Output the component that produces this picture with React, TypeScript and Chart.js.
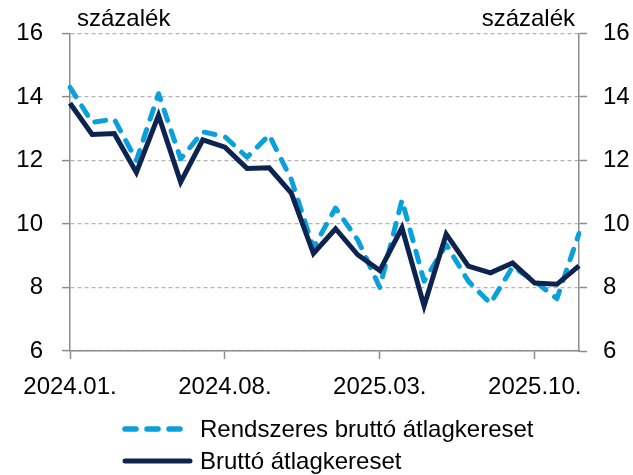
import React, { useEffect, useRef } from 'react';
import { Chart, registerables } from 'chart.js';

Chart.register(...registerables);

const months = [
  '2024.01.', '2024.02.', '2024.03.', '2024.04.', '2024.05.', '2024.06.',
  '2024.07.', '2024.08.', '2024.09.', '2024.10.', '2024.11.', '2024.12.',
  '2025.01.', '2025.02.', '2025.03.', '2025.04.', '2025.05.', '2025.06.',
  '2025.07.', '2025.08.', '2025.09.', '2025.10.', '2025.11.', '2025.12.',
];

const rendszeres = [
  14.3, 13.2, 13.3, 12.0, 14.1, 12.05, 12.9, 12.75, 12.1, 12.8, 11.4, 9.25,
  10.5, 9.5, 8.0, 10.75, 8.2, 9.35, 8.2, 7.5, 8.65, 8.2, 7.65, 9.7,
];

const brutto = [
  13.8, 12.82, 12.85, 11.62, 13.42, 11.32, 12.65, 12.42, 11.75, 11.77, 10.97, 9.07,
  9.85, 9.03, 8.53, 9.88, 7.42, 9.68, 8.67, 8.46, 8.77, 8.14, 8.1, 8.68,
];

const seriesNames = ['Rendszeres bruttó átlagkereset', 'Bruttó átlagkereset'];
const unitLabel = 'százalék';
const yMin = 6;
const yMax = 16;
const yStep = 2;
const labelEvery = 7;

const FONT = '"Liberation Sans", Arial, sans-serif';
const LIGHT_BLUE = '#0aa0dc';
const NAVY = '#0d2350';
const AXIS = '#8c8c8c';
const GRID = '#b4b4b4';

const overlayPlugin = {
  id: 'overlay',
  afterDraw(chart: any) {
    const ctx = chart.ctx as CanvasRenderingContext2D;
    const area = chart.chartArea;
    ctx.save();
    ctx.fillStyle = '#000';
    ctx.font = `24px ${FONT}`;
    ctx.textBaseline = 'alphabetic';
    ctx.textAlign = 'left';
    ctx.fillText(unitLabel, area.left + 7, 26);
    ctx.textAlign = 'right';
    ctx.fillText(unitLabel, area.right - 4, 26);

    // legend
    const rows = [
      { y: 429, color: LIGHT_BLUE, dash: [11, 11], width: 5.5, text: seriesNames[0] },
      { y: 461, color: NAVY, dash: [], width: 5, text: seriesNames[1] },
    ];
    ctx.font = `24px ${FONT}`;
    ctx.textAlign = 'left';
    rows.forEach((r) => {
      ctx.save();
      ctx.strokeStyle = r.color;
      ctx.lineWidth = r.width;
      ctx.lineCap = 'round';
      ctx.setLineDash(r.dash);
      ctx.beginPath();
      ctx.moveTo(125, r.y);
      ctx.lineTo(190, r.y);
      ctx.stroke();
      ctx.restore();
      ctx.fillText(r.text, 200, r.y + 8);
    });
    ctx.restore();
  },
};

export default function App() {
  const ref = useRef<HTMLCanvasElement>(null);

  useEffect(() => {
    if (!ref.current) return;
    const tickFont = { family: FONT, size: 24 };
    const chart = new Chart(ref.current, {
      type: 'line',
      data: {
        labels: months,
        datasets: [
          {
            label: seriesNames[0],
            data: rendszeres,
            borderColor: LIGHT_BLUE,
            backgroundColor: LIGHT_BLUE,
            borderWidth: 5,
            borderDash: [11, 11],
            borderCapStyle: 'round',
            borderJoinStyle: 'round',
            pointRadius: 0,
            tension: 0,
            order: 1,
            yAxisID: 'y',
          },
          {
            label: seriesNames[1],
            data: brutto,
            borderColor: NAVY,
            backgroundColor: NAVY,
            borderWidth: 5,
            borderCapStyle: 'butt',
            borderJoinStyle: 'miter',
            pointRadius: 0,
            tension: 0,
            order: 0,
            yAxisID: 'y',
          },
        ],
      },
      options: {
        animation: false,
        responsive: false,
        devicePixelRatio: 1,
        layout: { padding: { top: 33, bottom: 70, left: 0, right: 0 } },
        plugins: {
          legend: { display: false },
          tooltip: { enabled: false },
          title: { display: false },
        },
        scales: {
          x: {
            type: 'category',
            position: 'bottom',
            offset: false,
            grid: {
              drawOnChartArea: false,
              drawTicks: true,
              tickLength: 8,
              tickWidth: 1.5,
              tickColor: (c: any) => (c.index % labelEvery === 0 ? AXIS : 'rgba(0,0,0,0)'),
            },
            border: { color: AXIS, width: 1.5 },
            ticks: {
              autoSkip: false,
              maxRotation: 0,
              minRotation: 0,
              padding: 14,
              color: '#000',
              font: tickFont,
              callback: (_v: any, i: number) => (i % labelEvery === 0 ? months[i] : ''),
            },
            afterFit: (s: any) => {
              s.height = 54;
            },
          },
          y: {
            position: 'left',
            min: yMin,
            max: yMax,
            ticks: { stepSize: yStep, padding: 19, color: '#000', font: tickFont },
            grid: {
              color: GRID,
              lineWidth: 1.2,
              drawTicks: true,
              tickLength: 8,
              tickColor: AXIS,
              tickWidth: 1.5,
            },
            border: { color: AXIS, width: 1.5, dash: [4, 3] },
            afterFit: (s: any) => {
              s.width = 70;
            },
          },
          y2: {
            position: 'right',
            min: yMin,
            max: yMax,
            ticks: { stepSize: yStep, padding: 16, color: '#000', font: tickFont },
            grid: {
              drawOnChartArea: false,
              drawTicks: true,
              tickLength: 8,
              tickColor: AXIS,
              tickWidth: 1.5,
            },
            border: { color: AXIS, width: 1.5 },
            afterFit: (s: any) => {
              s.width = 54;
            },
          },
        },
      },
      plugins: [overlayPlugin],
    } as any);
    return () => chart.destroy();
  }, []);

  return (
    <div style={{ position: 'absolute', left: 0, top: 0, width: 633, height: 475, background: '#fff' }}>
      <canvas ref={ref} width={633} height={475} />
    </div>
  );
}
